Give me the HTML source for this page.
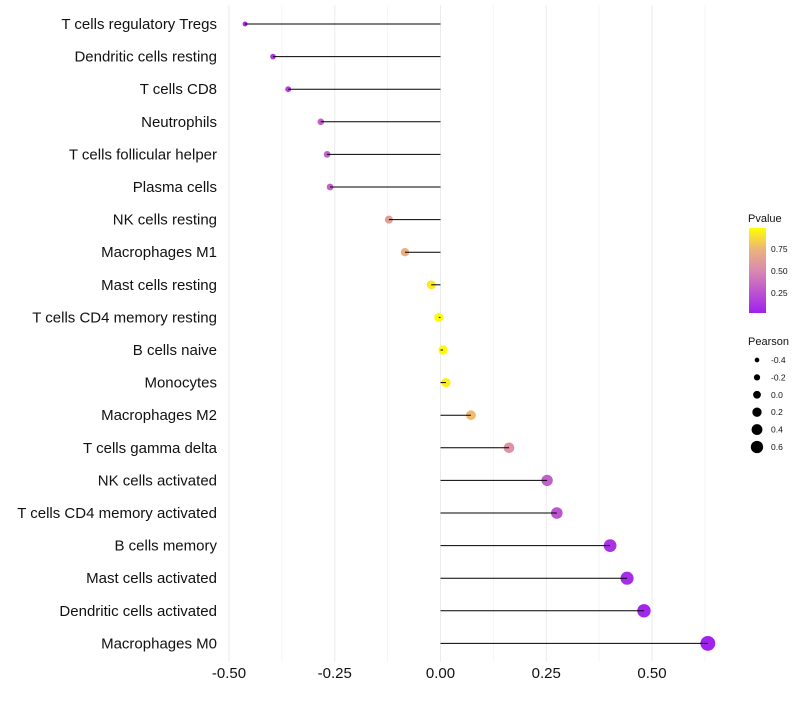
<!DOCTYPE html>
<html><head><meta charset="utf-8"><style>
body{margin:0;background:#fff;font-family:"Liberation Sans",sans-serif}
</style></head><body>
<svg id="chart" width="800" height="700" xmlns="http://www.w3.org/2000/svg">
<defs><linearGradient id="pg" x1="0" y1="1" x2="0" y2="0">
<stop offset="0" stop-color="#A020F0"/><stop offset="0.5" stop-color="#D98AB0"/><stop offset="0.75" stop-color="#EDB27C"/><stop offset="1" stop-color="#FFFF00"/></linearGradient></defs>
<g id="grid"></g><g id="points"></g><g id="marks"></g><g id="labels"></g><g id="legend"></g>
</svg>
<script>
const categories=["T cells regulatory  Tregs","Dendritic cells resting","T cells CD8","Neutrophils","T cells follicular helper","Plasma cells","NK cells resting","Macrophages M1","Mast cells resting","T cells CD4 memory resting","B cells naive","Monocytes","Macrophages M2","T cells gamma delta","NK cells activated","T cells CD4 memory activated","B cells memory","Mast cells activated","Dendritic cells activated","Macrophages M0"];
const pearson=[-0.462,-0.396,-0.36,-0.283,-0.268,-0.261,-0.122,-0.084,-0.022,-0.004,0.006,0.013,0.072,0.162,0.252,0.275,0.401,0.441,0.481,0.632];
const pvalues=[0.05,0.1,0.15,0.3,0.3,0.3,0.62,0.72,0.93,0.99,0.98,0.95,0.78,0.55,0.3,0.25,0.08,0.05,0.03,0.005];
const xTicks=[-0.5,-0.25,0,0.25,0.5];
const xTickLabels=["-0.50","-0.25","0.00","0.25","0.50"];
const legendPearson=[-0.4,-0.2,0.0,0.2,0.4,0.6];
const legendPLabels=["0.75","0.50","0.25"];
const legendPVals=[0.75,0.5,0.25];
const NS="http://www.w3.org/2000/svg";
const x=v=>440.5+v*423;
const y=i=>24+i*32.6;
const r=v=>2.5+(v+0.46)*4.5;
function colorOf(p){const st=[[0,[160,32,240]],[0.5,[217,138,176]],[0.75,[237,178,124]],[1,[255,255,0]]];
for(let k=1;k<st.length;k++){if(p<=st[k][0]){const a=st[k-1],b=st[k],t=(p-a[0])/(b[0]-a[0]);return "rgb("+a[1].map((c,j)=>Math.round(c+(b[1][j]-c)*t)).join(",")+")";}}return "rgb(255,255,0)";}
function mk(tag,at,parent){const e=document.createElementNS(NS,tag);for(const k in at)e.setAttribute(k,at[k]);document.getElementById(parent).appendChild(e);return e;}
const plotTop=5,plotBot=662;
for(let v=-0.5;v<=0.626;v+=0.125){const l=mk("line",{x1:x(v),x2:x(v),y1:plotTop,y2:plotBot,stroke:Math.abs((v*4)%1)<1e-6?"#ebebeb":"#f5f5f5","stroke-width":1},"grid");

}
xTicks.forEach((v,i)=>{const t=mk("text",{x:x(v),y:678,"text-anchor":"middle","font-size":15,fill:"#111"},"labels");t.textContent=xTickLabels[i];

});
categories.forEach((c,i)=>{const t=mk("text",{x:217,y:y(i)+5,"text-anchor":"end","font-size":15,fill:"#111"},"labels");t.textContent=c;


const l=mk("line",{x1:x(0),x2:x(pearson[i]),y1:y(i),y2:y(i),stroke:"#000","stroke-width":1},"marks");


const d=mk("circle",{cx:x(pearson[i]),cy:y(i),r:r(pearson[i]),fill:colorOf(pvalues[i])},"points");

});
let t=mk("text",{x:748,y:222,"font-size":11,fill:"#111"},"legend");t.textContent="Pvalue";


const bar=mk("rect",{x:749,y:228,width:17,height:85,fill:"url(#pg)"},"legend");


legendPVals.forEach((p,i)=>{const yy=313-(p-0.02)/0.97*85;
const tl=mk("text",{x:771,y:yy+3,"font-size":8.5,fill:"#111"},"legend");tl.textContent=legendPLabels[i];

});
t=mk("text",{x:748,y:345,"font-size":11,fill:"#111"},"legend");t.textContent="Pearson";


legendPearson.forEach((v,i)=>{const yy=360+i*17.4;
const c=mk("circle",{cx:757,cy:yy,r:r(v)*0.85,fill:"#000"},"legend");


const tl=mk("text",{x:771,y:yy+3,"font-size":8.5,fill:"#111"},"legend");tl.textContent=v.toFixed(1);

});
</script>
</body></html>
